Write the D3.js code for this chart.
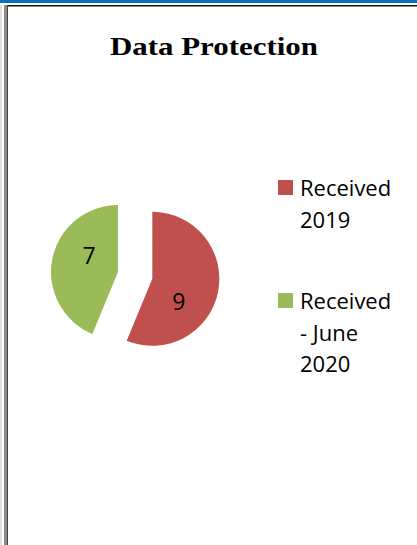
<!DOCTYPE html>
<html>
<head>
<meta charset="utf-8">
<script src="https://cdn.jsdelivr.net/npm/d3@7"></script>
<style>
  body { margin: 0; background: #fff; }
</style>
</head>
<body>
<div id="chart-area"></div>
<script>
var width = 417,
    height = 545;

// data
var categories = ["Received 2019", "Received - June 2020"];
var legendLines = [["Received", "2019"], ["Received", "- June", "2020"]];
var values = [9, 7];
var colors = ["#c0504d", "#9bbb59"];
var explode = [35, 0];
// label placement (polar, relative to each slice's vertex) - excel "best fit"
var labelAngle = [131, 299];
var labelDist = [35, 33];

var svg = d3.select("#chart-area").append("svg")
    .attr("width", width)
    .attr("height", height);

// frame bits around the chart (page border)
svg.append("rect").attr("x", 0).attr("y", 0).attr("width", width).attr("height", 3).style("fill", "#0b6fc0");
svg.append("rect").attr("x", 7).attr("y", 5).attr("width", width - 7).attr("height", 1.5).style("fill", "#111");
svg.append("rect").attr("x", 0).attr("y", 5).attr("width", 2).attr("height", height - 5).style("fill", "#e2e2e2");
svg.append("rect").attr("x", 4).attr("y", 5).attr("width", 3).attr("height", height - 5).style("fill", "#8c8c8c");
svg.append("rect").attr("x", 7).attr("y", 5).attr("width", 1).attr("height", height - 5).style("fill", "#444");

// title
svg.append("text")
    .attr("x", 214)
    .attr("y", 55)
    .attr("text-anchor", "middle")
    .attr("textLength", 208)
    .attr("lengthAdjust", "spacingAndGlyphs")
    .style("font-family", "'Liberation Serif', serif")
    .style("font-weight", "bold")
    .style("font-size", "25px")
    .text("Data Protection");

// pie
var cx = 118, cy = 272, r = 67;

var pie = d3.pie().sort(null).value(d => d);
var arcs = pie(values);
var arc = d3.arc().innerRadius(0).outerRadius(r);

var g = svg.append("g").attr("transform", "translate(" + cx + "," + cy + ")");

var slices = g.selectAll(".slice")
    .data(arcs)
    .enter()
    .append("g")
    .attr("class", "slice")
    .attr("transform", function(d, i) {
      var mid = (d.startAngle + d.endAngle) / 2;
      return "translate(" + (Math.sin(mid) * explode[i]) + "," + (-Math.cos(mid) * explode[i]) + ")";
    });

slices.append("path")
    .attr("d", arc)
    .style("fill", (d, i) => colors[i]);

slices.append("text")
    .attr("transform", function(d, i) {
      var a = labelAngle[i] * Math.PI / 180;
      return "translate(" + (Math.sin(a) * labelDist[i]) + "," + (-Math.cos(a) * labelDist[i]) + ")";
    })
    .attr("text-anchor", "middle")
    .attr("dy", "0.36em")
    .style("font-family", "'Open Sans', sans-serif")
    .style("font-size", "23px")
    .style("fill", "#000")
    .text(d => d.data);

// legend
var legendY = [180, 293];
var legend = svg.selectAll(".legend")
    .data(categories)
    .enter()
    .append("g")
    .attr("class", "legend")
    .attr("transform", (d, i) => "translate(278," + legendY[i] + ")");

legend.append("rect")
    .attr("width", 15)
    .attr("height", 15)
    .style("fill", (d, i) => colors[i]);

legend.each(function(d, i) {
  var t = d3.select(this).append("text")
      .style("font-family", "'Open Sans', sans-serif")
      .style("font-size", "22px")
      .style("fill", "#000");
  legendLines[i].forEach(function(line, j) {
    t.append("tspan")
        .attr("x", 22)
        .attr("y", 16 + j * 31.5)
        .text(line);
  });
});
</script>
</body>
</html>
